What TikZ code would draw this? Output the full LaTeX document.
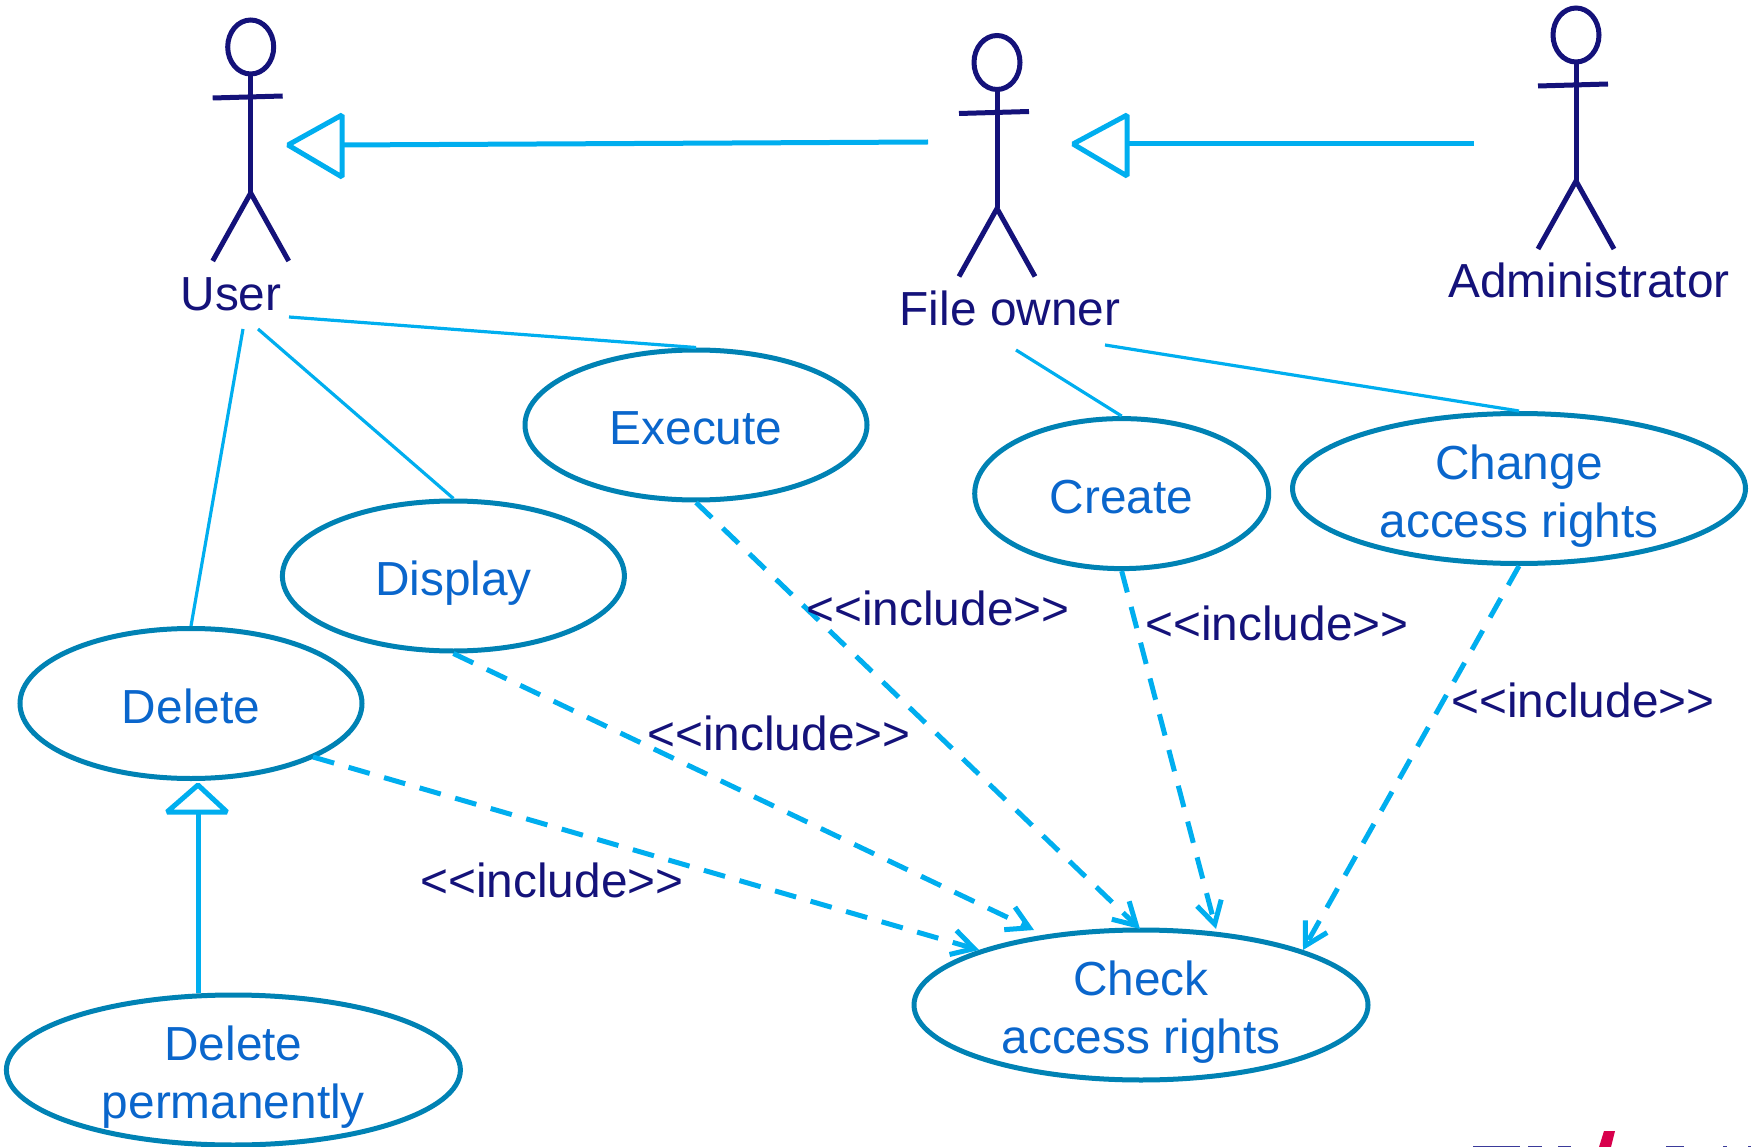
\documentclass[tikz,border=0pt]{standalone}
\usepackage{fontspec}
\setmainfont{Liberation Sans}
\usetikzlibrary{arrows.meta,shapes.geometric}
\definecolor{navy}{HTML}{14127A}
\definecolor{sky}{HTML}{00AEEF}
\definecolor{teal}{HTML}{0082B4}
\definecolor{ucblue}{HTML}{0A66CC}
\definecolor{logoblue}{HTML}{3A3A9A}
\definecolor{logored}{HTML}{D8004C}
\newcommand\ucone[1]{\raisebox{-19.5pt}[0pt][0pt]{#1}}
\newcommand\uctwo[2]{\raisebox{9.5pt}[0pt][0pt]{\begin{tabular}[t]{@{}c@{}}#1\\#2\end{tabular}}}
\tikzset{
  uc/.style={draw=teal,line width=5pt,ellipse,minimum width=#1,minimum height=150pt,inner sep=0pt,
    text=ucblue,font=\fontsize{47.8}{58}\selectfont},
  actorlabel/.style={text=navy,font=\fontsize{47.8}{58}\selectfont,inner sep=0pt},
  inclabel/.style={text=navy,font=\fontsize{47.8}{58}\selectfont,inner sep=0pt},
  assoc/.style={draw=sky,line width=3.2pt},
  incl/.style={draw=sky,line width=5pt,dash pattern=on 22pt off 15pt,
    -{Straight Barb[length=22pt,width=25pt,line width=5pt,sep=0pt]}},
  genline/.style={draw=sky,line width=5pt},
  gentip/.style={draw=sky,line width=5pt,line join=bevel,fill=none},
  actorline/.style={draw=navy,line width=5pt},
  logopart/.style={fill=logoblue,draw=none},
  actor/.pic={
    \draw[actorline] (0,-98) ellipse (23 and 27);
    \draw[actorline] (0,-71) -- (0,48);
    \draw[actorline] (-38,-47) -- (32,-49);
    \draw[actorline] (-38,116) -- (0,48) -- (38,116);
  }
}
\begin{document}
\begin{tikzpicture}[x=1pt,y=-1pt]
\useasboundingbox (0,0) rectangle (1751,1147);
\clip (0,0) rectangle (1751,1147);
% actors
\pic at (250.7,145) {actor};
\pic at (997,160.5) {actor};
\pic at (1576,133) {actor};
\node[actorlabel] (user) at (231,294) {User};
\node[actorlabel] (owner) at (1010,308.5) {File owner};
\node[actorlabel] (admin) at (1589,280) {Administrator};
% use cases
\node[uc=342pt] (execute) at (696,425) {\ucone{Execute}};
\node[uc=342pt] (display) at (453.4,576) {\ucone{Display}};
\node[uc=342pt] (delete) at (191,703.5) {\ucone{Delete}};
\node[uc=454pt] (delperm) at (233.4,1070) {\uctwo{Delete}{permanently}};
\node[uc=294pt] (create) at (1121.7,493.6) {\ucone{Create}};
\node[uc=453pt] (change) at (1519,488.5) {\uctwo{Change}{access rights}};
\node[uc=454pt] (check) at (1141,1005) {\uctwo{Check}{access rights}};
% free ends
\coordinate (uE) at (289,317);
\coordinate (uD) at (258,329);
\coordinate (uL) at (243,329);
\coordinate (oC) at (1016,350);
\coordinate (oR) at (1105,345);
\coordinate (t1) at (1140,929);
\coordinate (t2) at (1034,930);
\coordinate (t3) at (979,950);
\coordinate (t4) at (1216,929);
\coordinate (t5) at (1303,950);
\coordinate (d3) at (313,757);
% associations
\draw[assoc] (uE) -- (execute.north);
\draw[assoc] (uD) -- (display.north);
\draw[assoc] (uL) -- (delete.north);
\draw[assoc] (oC) -- (create.north);
\draw[assoc] (oR) -- (change.north);
% includes
\draw[incl] (execute.south) -- (t1);
\draw[incl] (display.south) -- (t2);
\draw[incl] (d3) -- (t3);
\draw[incl] (create.south) -- (t4);
\draw[incl] (change.south) -- (t5);
% generalisations
\coordinate (g1a) at (928,142);
\coordinate (g1b) at (342,145);
\draw[genline] (g1a) -- (g1b);
\draw[gentip] (342,115) -- (288,145) -- (342,177) -- cycle;
\coordinate (g2a) at (1474,144);
\coordinate (g2b) at (1127,144);
\draw[genline] (g2a) -- (g2b);
\draw[gentip] (1127,115) -- (1073,144) -- (1127,176) -- cycle;
\coordinate (g3b) at (198,812);
\draw[genline] (delperm.north -| g3b) -- (g3b);
\draw[gentip] (167,812) -- (198,785) -- (227,812) -- cycle;
% labels
\node[inclabel] (i1) at (938,608) {<{}<include>{}>};
\node[inclabel] (i2) at (779,733) {<{}<include>{}>};
\node[inclabel] (i3) at (552,880) {<{}<include>{}>};
\node[inclabel] (i4) at (1277,623.5) {<{}<include>{}>};
\node[inclabel] (i5) at (1583,700.5) {<{}<include>{}>};
% cut-off logo
\fill[logored] (1604,1131) -- (1615,1131) -- (1611,1147) -- (1599,1147) -- cycle;
\fill[logopart] (1473,1145.5) rectangle (1520,1147);
\fill[logopart] (1528,1145.5) rectangle (1542,1147);
\fill[logopart] (1558,1145.5) rectangle (1571,1147);
\fill[logopart] (1666,1145.5) rectangle (1684,1147);
\fill[logopart] (1723,1145.5) rectangle (1727,1147);
\fill[logopart] (1748,1145.5) rectangle (1751,1147);
\end{tikzpicture}
\end{document}
